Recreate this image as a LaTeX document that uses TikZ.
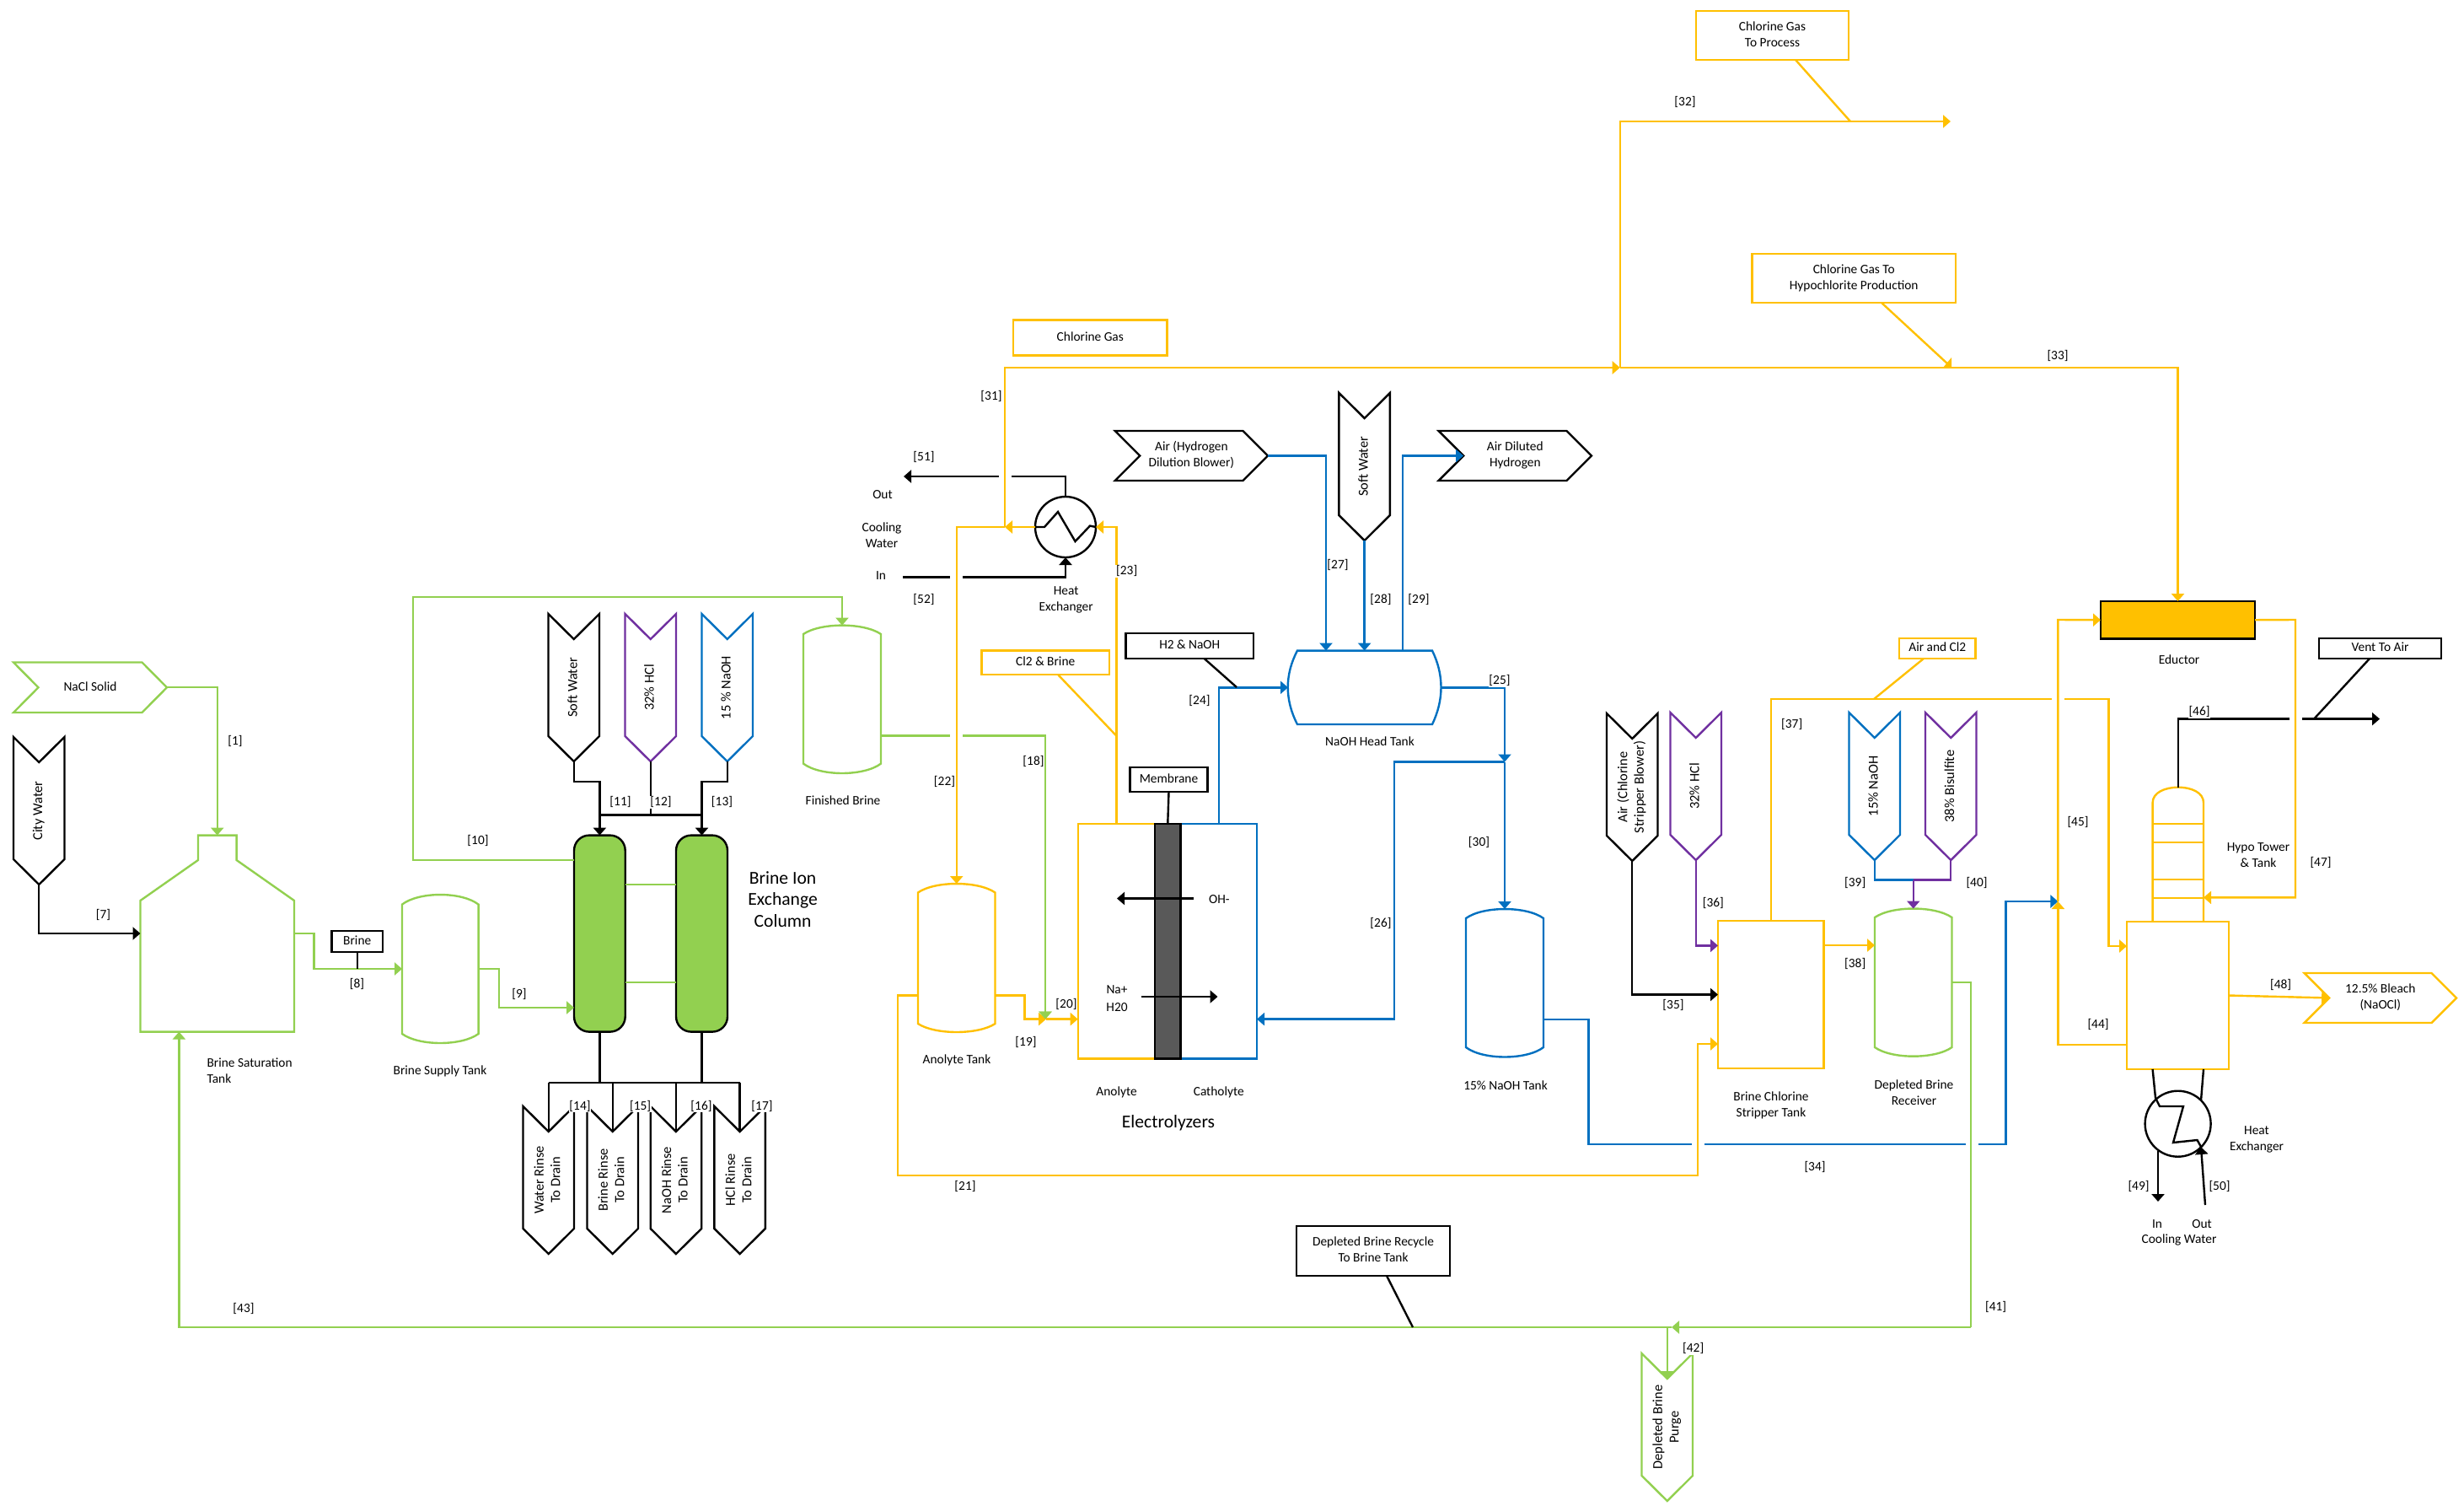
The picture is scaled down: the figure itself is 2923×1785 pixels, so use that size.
\documentclass[tikz,border=0pt]{standalone}
\usepackage{fontspec}
\setmainfont{Carlito}
\usepackage{graphicx}
\usetikzlibrary{arrows.meta,calc}
\definecolor{gr}{HTML}{92D050}
\definecolor{yl}{HTML}{FFC000}
\definecolor{bl}{HTML}{0070C0}
\definecolor{pu}{HTML}{7030A0}
\definecolor{mem}{HTML}{595959}
\tikzset{
  ln/.style={line width=1.2pt,draw=#1,line join=miter},
  arr/.style={-{Triangle[length=4.5pt,width=7.5pt]}},
  holder/.style={inner sep=0pt,outer sep=0pt,align=center},
  txt/.style={inner sep=0pt,outer sep=0pt,align=center,yshift=-0.7pt},
  ltxt/.style={inner sep=0pt,outer sep=0pt,align=left,anchor=west,yshift=-0.7pt},
  bigtxt/.style={inner sep=0pt,outer sep=0pt,yshift=-0.5pt,font=\fontsize{10.8}{12.5}\selectfont},
  lab/.style={inner sep=0.4pt,outer sep=0pt,fill=white,yshift=-0.7pt},
}
% lowered block of centred lines
\newcommand\tblock[1]{\raisebox{-0.7pt}{\begin{tabular}{@{}c@{}}#1\end{tabular}}}
% pentagon pointing down: name, left x, top y, colour, text
\newcommand\vpent[5]{%
  \draw[ln=#4] (#2,#3) -- (#2+30.25,#3+30) -- (#2+60.5,#3) -- (#2+60.5,#3+145) -- (#2+30.25,#3+175) -- (#2,#3+145) -- cycle;
  \node[holder,minimum width=30.25pt,minimum height=87.5pt] (#1) at (#2+30.25,#3+87.5) {\rotatebox{90}{\fontsize{8.2}{9.8}\selectfont\begin{tabular}{@{}c@{}}#5\end{tabular}}};
  \coordinate (#1-n) at (#2+30.25,#3+30);
}
% chevron pointing right: name, x1, x2, y1, y2, colour, text
\newcommand\hchev[7]{%
  \draw[ln=#6] (#2,#4) -- (#3-29.5,#4) -- (#3,#4/2+#5/2) -- (#3-29.5,#5) -- (#2,#5) -- (#2+29.5,#4/2+#5/2) -- cycle;
  \node[holder,minimum width={(#3-#2)*0.5pt},minimum height={(#5-#4)*0.5pt}] (#1) at (#2/2+#3/2,#4/2+#5/2) {\tblock{#7}};
  \coordinate (#1-n) at (#2+29.5,#4/2+#5/2);
}
% vertical tank: name, x1, x2, ytop, yshoulder, ylow, ybottom, colour
\newcommand\vtank[8]{%
  \draw[ln=#8] (#2,#5) .. controls (#2+0.22*#3-0.22*#2,#5-1.33*#5+1.33*#4) and (#3-0.22*#3+0.22*#2,#5-1.33*#5+1.33*#4) .. (#3,#5)
     -- (#3,#6) .. controls (#3-0.22*#3+0.22*#2,#6+1.33*#7-1.33*#6) and (#2+0.22*#3-0.22*#2,#6+1.33*#7-1.33*#6) .. (#2,#6) -- cycle;
  \node[holder,minimum width={(#3-#2)*0.5pt},minimum height={(#7-#4)*0.5pt}] (#1) at (#2/2+#3/2,#4/2+#7/2) {};
}
% rectangle node: name, x1, x2, y1, y2, colour, text
\newcommand\boxn[7]{%
  \node[holder,draw=#6,line width=1.2pt,minimum width={(#3-#2)*0.5pt},minimum height={(#5-#4)*0.5pt}] (#1) at (#2/2+#3/2,#4/2+#5/2) {\tblock{#7}};
}
% white break in a line that another line crosses
\newcommand\gapw[2]{\fill[white] (#1-7.5,#2-4) rectangle (#1+7.5,#2+4);}
\newcommand\lb[3]{\node[lab] (n#1) at (#2,#3) {[#1]};}
\begin{document}
\begin{tikzpicture}[x=0.5pt,y=-0.5pt,font=\fontsize{7.7}{9.5}\selectfont]
\useasboundingbox (0,0) rectangle (2923,1785);

% ===== equipment =====
\hchev{nacl}{16}{198}{785.5}{845}{gr}{NaCl Solid}
\vpent{city}{16}{874}{black}{City Water}
\draw[ln=gr] (166.5,1223.6) -- (166.5,1068) -- (235,1020) -- (235,990.6) -- (280.6,990.6) -- (280.6,1020) -- (349,1068) -- (349,1223.6) -- cycle;
\node[holder,minimum width=91.25pt,minimum height=116.5pt] (sat) at (257.75,1107.1) {};
\boxn{brinebox}{393.5}{454}{1104}{1129}{black}{Brine}
\vtank{sup}{477}{567.6}{1061}{1072.6}{1226}{1237}{gr}
\vtank{fin}{953}{1045}{741.6}{752}{905.6}{917}{gr}
\vpent{sw1}{650.5}{728}{black}{Soft Water}
\vpent{hcl1}{741.5}{728}{pu}{32\% HCl}
\vpent{nao1}{832.5}{728}{bl}{15 \% NaOH}
\node[holder,draw=black,line width=1.2pt,fill=gr,rounded corners=9pt,minimum width=30.35pt,minimum height=116.5pt] (col1) at (711.35,1107.1) {};
\node[holder,draw=black,line width=1.2pt,fill=gr,rounded corners=9pt,minimum width=30.5pt,minimum height=116.5pt] (col2) at (832.5,1107.1) {};
\vpent{d1}{620.5}{1312}{black}{Water Rinse\\To Drain}
\vpent{d2}{696.5}{1312}{black}{Brine Rinse\\To Drain}
\vpent{d3}{771.7}{1312}{black}{NaOH Rinse\\To Drain}
\vpent{d4}{847.4}{1312}{black}{HCl Rinse\\To Drain}

\boxn{chlgas}{1202}{1384.6}{379.5}{421.5}{yl}{Chlorine Gas}
\boxn{cl2box}{1164.5}{1316}{771.6}{800}{yl}{Cl2 \& Brine}
\boxn{h2box}{1335.5}{1487}{751}{781}{black}{H2 \& NaOH}
\boxn{membox}{1340.6}{1432.4}{910}{939}{black}{Membrane}
\vtank{anot}{1089}{1180.5}{1048}{1058.5}{1214}{1224}{yl}
\boxn{anolyte}{1278.7}{1370}{977}{1255.6}{yl}{}
\boxn{catholyte}{1400.5}{1491}{977}{1255.6}{bl}{}
\node[holder,draw=black,line width=1.2pt,fill=mem,minimum width=15.25pt,minimum height=139.3pt] (membrane) at (1385.25,1116.3) {};
\hchev{airh}{1322.7}{1504}{511}{570}{black}{Air (Hydrogen\\Dilution Blower)}
\vpent{sw2}{1588.4}{466}{black}{Soft Water}
\hchev{adh}{1706.6}{1888}{511}{570}{black}{Air Diluted\\Hydrogen}
\draw[ln=bl] (1539,771.6) -- (1699,771.6) .. controls (1713,800) and (1713,830) .. (1699,859) -- (1539,859) .. controls (1524,830) and (1524,800) .. (1539,771.6) -- cycle;
\node[holder,minimum width=90.5pt,minimum height=43.7pt] (head) at (1618.5,815.3) {};
\vtank{t15}{1739}{1831}{1078}{1089}{1242}{1253.5}{bl}

\boxn{proc}{2012}{2193}{12.7}{71}{yl}{Chlorine Gas\\To Process}
\boxn{hypo}{2078.4}{2320}{300.7}{359}{yl}{Chlorine Gas To\\Hypochlorite Production}
\boxn{recyc}{1538}{1720}{1454}{1513}{black}{Depleted Brine Recycle\\To Brine Tank}
\vpent{purge}{1947.5}{1605}{gr}{Depleted Brine\\Purge}
\vpent{airc}{1906}{846}{black}{Air (Chlorine\\Stripper Blower)}
\vpent{hcl2}{1981.5}{845}{pu}{32\% HCl}
\vpent{nao2}{2193.5}{845}{bl}{15\% NaOH}
\vpent{bis}{2284}{845}{pu}{38\% Bisulfite}
\boxn{strip}{2038}{2163.5}{1092}{1267}{yl}{}
\vtank{recv}{2224}{2315.5}{1077.5}{1088}{1242}{1252.7}{gr}
\boxn{airbox}{2253}{2343.6}{757}{781}{yl}{Air and Cl2}
\boxn{educ}{2492}{2675}{713}{757.4}{black}{}
\fill[yl] (educ.south west) rectangle (educ.north east);
\draw[line width=1.2pt] (educ.south west) rectangle (educ.north east);
\boxn{vent}{2751}{2896}{757}{781}{black}{Vent To Air}
\boxn{react}{2523}{2644}{1093}{1268}{yl}{}
\hchev{bleach}{2733.6}{2914}{1154}{1213}{yl}{12.5\% Bleach\\(NaOCl)}
% hypo tower
\draw[ln=yl] (2553.6,1093) -- (2553.6,952) .. controls (2553.6,940) and (2568,933.7) .. (2583.8,933.7) .. controls (2600,933.7) and (2614,940) .. (2614,952) -- (2614,1093);
\foreach \yy in {977,999,1043,1065}{\draw[ln=yl] (2553.6,\yy) -- (2614,\yy);}
\node[holder,minimum width=30.2pt,minimum height=79.6pt] (tower) at (2583.8,1013.3) {};
% heat exchangers
\node[holder,draw=black,line width=1.2pt,circle,minimum size=36pt] (hxt) at (1264,625) {};
\node[holder,draw=black,line width=1.2pt,circle,minimum size=39pt] (hxb) at (2583.6,1332.7) {};
\draw[ln=black] (hxt.west) -- (1239,625) -- (1255,607) -- (1275.5,642) -- (1293,623.6) -- (hxt.east);

% ===== connectors that are broken where another line crosses them =====
\draw[ln=black,arr] (hxt.north) |- (1072,565) coordinate (e51);
\coordinate (s52) at (1071,684.6);
\draw[ln=black,arr] (s52) -| (hxt.south);
\draw[ln=gr,arr] (fin.east |- 0,872.6) -| (1240,1208.6);
\coordinate (j26) at (1785,903.5);
\draw[ln=bl,arr] (t15.east |- 0,1209) -- (1884.5,1209) -- (1884.5,1356.8) -- (2379.5,1356.8) -- (2379.5,1069) -- (2441.4,1069) coordinate (j45);
\coordinate (j37) at (2501.4,829);
\draw[ln=yl,arr] (strip.north) |- (j37) |- (react.west |- 0,1122);
\draw[ln=black,arr] (tower.north) |- (2823,852.6) coordinate (e46);
\gapw{1192}{565}
\gapw{1134.6}{684.6}
\gapw{1134.6}{872.6}
\gapw{2014}{1356.8}
\gapw{2339}{1356.8}
\gapw{2441}{829}
\gapw{2723}{852.6}

% ===== left: brine =====
\draw[ln=gr,arr] (nacl.east) -| (sat.north);
\draw[ln=black,arr] (city.south) |- (sat.west |- 0,1107);
\draw[ln=gr,arr] (sat.east |- 0,1107) -- (372.5,1107) -- (372.5,1149) -- (sup.west |- 0,1149);
\draw[ln=black] (brinebox.south) -- (brinebox.south |- 0,1149);
\draw[ln=gr,arr] (sup.east |- 0,1149) -- (592,1149) -- (592,1195) -- (col1.west |- 0,1195);
\draw[ln=gr,arr] (col1.west |- 0,1020) -- (490,1020) -- (490,708) -| (fin.north);
\draw[ln=gr] (col1.east |- 0,1049) -- (col2.west |- 0,1049);
\draw[ln=gr] (col1.east |- 0,1165) -- (col2.west |- 0,1165);
\draw[ln=black,arr] (sw1.south) |- (col1.north |- 0,927) -- (col1.north);
\draw[ln=black,arr] (nao1.south) |- (col2.north |- 0,927) -- (col2.north);
\draw[ln=black] (hcl1.south) -- (hcl1.south |- 0,966.5);
\draw[ln=black] (col1.north |- 0,966.5) -- (col2.north |- 0,966.5);
\draw[ln=black] (col1.south) -- (col1.south |- 0,1284);
\draw[ln=black] (col2.south) -- (col2.south |- 0,1284);
\draw[ln=black] (d1-n |- 0,1284) -- (d4-n |- 0,1284);
\draw[ln=black] (d1-n |- 0,1284) -- (d1-n);
\draw[ln=black] (d2-n |- 0,1284) -- (d2-n);
\draw[ln=black] (d3-n |- 0,1284) -- (d3-n);
\draw[ln=black] (d4-n |- 0,1284) -- (d4-n);

% ===== middle: chlorine =====
\coordinate (j31) at (1192,625);
\coordinate (j32) at (1921.7,436);
\coordinate (j33) at (2315,436);
\draw[ln=yl,arr] (hxt.west) -- (j31);
\draw[ln=yl,arr] (j31) -| (anot.north);
\draw[ln=yl,arr] (j31) |- (j32);
\draw[ln=yl] (j32) -- (j33);
\draw[ln=yl,arr] (j33) -| (educ.north);
\fill[yl] (j33) -- (2305,436) -- (2315,424) -- cycle;
\draw[ln=yl,arr] (j32) |- (2314,144) coordinate (e32);
\draw[ln=yl] (proc.south -| 2130,0) -- (2195,144) coordinate (t32);
\draw[ln=yl] (hypo.south -| 2232,0) -- (2311,432) coordinate (t33);
\draw[ln=yl,arr] (anolyte.north) |- (hxt.east);
\draw[ln=yl] (cl2box.south -| 1255,0) -- (anolyte.north |- 0,872.6);
\coordinate (j20) at (1241,1208.6);
\draw[ln=yl,arr] (anot.east |- 0,1180.6) -- (1215.6,1180.6) -- (1215.6,1208.6) -- (j20);
\draw[ln=yl,arr] (j20) -- (anolyte.west |- 0,1208.6);
\draw[ln=yl,arr] (anot.west |- 0,1180.6) -- (1065,1180.6) -- (1065,1394) -- (2014,1394) -- (2014,1238) -- (strip.west |- 0,1238);
\draw[ln=gr,arr] (1240,1190) -- (1240,1208.6);

% ===== middle: caustic =====
\draw[ln=bl,arr] (catholyte.north) |- (head.west);
\draw[ln=black] (h2box.south -| 1428.6,0) -- (1467,815) coordinate (t24);
\draw[ln=black] (membox.south) -- (membrane.north);
\draw[ln=bl,arr] (airh.east) -| (head.north -| 1573,0);
\draw[ln=bl,arr] (sw2.south) -- (sw2.south |- head.north);
\draw[ln=bl,arr] (head.north -| 1664,0) |- (adh-n);
\draw[ln=bl,arr] (head.east) -| (j26);
\draw[ln=bl,arr] (j26) -- (t15.north);
\draw[ln=bl,arr] (j26) -- (1653.7,903.5) -- (1653.7,1208.6) -- (catholyte.east |- 0,1208.6);
\draw[ln=black,arr] (1416,1065.5) coordinate (s1) -- (1325,1065.5) coordinate (e1);
\draw[ln=black,arr] (1354,1182) coordinate (s2) -- (1444.5,1182) coordinate (e2);

% ===== right =====
\draw[ln=black,arr] (airc.south) |- (strip.west |- 0,1179.5);
\draw[ln=pu,arr] (hcl2.south) |- (strip.west |- 0,1121.4);
\draw[ln=yl] (airbox.south -| 2282,0) -- (2223,829) coordinate (t37);
\draw[ln=yl,arr] (strip.east |- 0,1121) -- (recv.west |- 0,1121);
\coordinate (j39) at (2269.75,1043.5);
\draw[ln=bl] (nao2.south) |- (j39);
\draw[ln=pu] (bis.south) |- (j39);
\draw[ln=pu,arr] (j39) -- (recv.north);
\coordinate (rc) at (2338,1574);
\coordinate (j41) at (1983,1574);
\coordinate (j42) at (1977.75,1574);
\draw[ln=gr] (recv.east |- 0,1165) -| (rc);
\draw[ln=gr,arr] (rc) -- (j41);
\draw[ln=gr,arr] (j41) -- (212.4,1574) -- (sat.south -| 212.4,0);
\draw[ln=gr,arr] (j42) -- (purge-n);
\draw[ln=black] (recyc.south -| 1645,0) -- (1676,1574) coordinate (t41);
\draw[ln=yl,arr] (react.west |- 0,1239) -- (2441.4,1239) -- (j45);
\draw[ln=yl,arr] (j45) -- (2441.4,735) -- (educ.west);
\draw[ln=yl,arr] (educ.east) -- (2723,735) -- (2723,1064.4) -- (tower.east |- 0,1064.4);
\draw[ln=black] (vent.south -| 2811,0) -- (2745,852.6) coordinate (t46);
\draw[ln=yl,arr] (react.east |- 0,1180.5) -- (bleach-n);
\draw[ln=black] (react.south -| 2553.6,0) -- (2557,1302) -- (2562,1312) -- (2590,1312) -- (2578,1355) -- (2606.5,1352) -- (2611,1360) coordinate (z50);
\draw[ln=black] (react.south -| 2614,0) -- (2611,1305);
\draw[ln=black,arr] (2560,1365) coordinate (s49) -- (2560,1425) coordinate (e49);
\draw[ln=black,arr] (2616,1429) coordinate (s50) -- (z50);

% ===== texts =====
\node[ltxt] (t1) at (245.5,1268) {Brine Saturation\\Tank};
\node[txt] (t2) at (522,1269) {Brine Supply Tank};
\node[txt] (t3) at (1000,948) {Finished Brine};
\node[bigtxt,align=center] (t4) at (928.6,1065.6) {Brine Ion\\[0.3pt]Exchange\\[0.3pt]Column};
\node[txt] (t5) at (1135,1256) {Anolyte Tank};
\node[txt] (t6) at (1324.6,1293.5) {Anolyte};
\node[txt] (t7) at (1445.8,1293.5) {Catholyte};
\node[bigtxt] (t8) at (1386,1331) {Electrolyzers};
\node[txt] (t9) at (1446.4,1065.5) {OH-};
\node[txt] (t10) at (1325,1183) {Na+\\[1pt]H20};
\node[txt] (t11) at (1047,585) {Out};
\node[txt] (t12) at (1046,633) {Cooling\\Water};
\node[txt] (t13) at (1045,681) {In};
\node[txt] (t14) at (1264.7,709.5) {Heat\\Exchanger};
\node[txt] (t15t) at (1625,877.5) {NaOH Head Tank};
\node[txt] (t16) at (1786,1286) {15\% NaOH Tank};
\node[txt] (t17) at (2101,1309.5) {Brine Chlorine\\Stripper Tank};
\node[txt] (t18) at (2270.5,1294.5) {Depleted Brine\\Receiver};
\node[txt] (t19) at (2585,781) {Eductor};
\node[txt] (t20) at (2679,1012.5) {Hypo Tower\\\& Tank};
\node[txt] (t21) at (2677,1350) {Heat\\Exchanger};
\node[txt] (t22) at (2559,1450) {In};
\node[txt] (t23) at (2612,1450) {Out};
\node[txt] (t24l) at (2585,1469) {Cooling Water};

% ===== stream numbers =====
\lb{1}{279}{878}
\lb{7}{122.5}{1084}
\lb{8}{423.5}{1166}
\lb{9}{616}{1178}
\lb{10}{567}{996}
\lb{11}{736}{950}
\lb{12}{784}{950}
\lb{13}{856.5}{950}
\lb{14}{688}{1310.4}
\lb{15}{759.6}{1310.4}
\lb{16}{832}{1310.4}
\lb{17}{904}{1310.4}
\lb{18}{1226}{902}
\lb{19}{1217}{1235}
\lb{20}{1265}{1190}
\lb{21}{1145}{1406}
\lb{22}{1120.5}{926}
\lb{23}{1336.7}{676}
\lb{24}{1423}{830}
\lb{25}{1779}{806}
\lb{26}{1638}{1094}
\lb{27}{1587}{669}
\lb{28}{1638}{710}
\lb{29}{1683}{710}
\lb{30}{1754.5}{997.5}
\lb{31}{1176}{469}
\lb{32}{1999}{120}
\lb{33}{2441}{421}
\lb{34}{2153}{1382.4}
\lb{35}{1985}{1190.5}
\lb{36}{2032.4}{1070}
\lb{37}{2125.7}{858}
\lb{38}{2200.7}{1142}
\lb{39}{2200.7}{1046}
\lb{40}{2345}{1046}
\lb{41}{2367.6}{1549}
\lb{42}{2008.7}{1598}
\lb{43}{289}{1551}
\lb{44}{2489}{1214}
\lb{45}{2465}{974}
\lb{46}{2609}{843}
\lb{47}{2753}{1022}
\lb{48}{2705.6}{1166.4}
\lb{49}{2537}{1406}
\lb{50}{2633}{1406}
\lb{51}{1096}{541}
\lb{52}{1096}{710}
\end{tikzpicture}
\end{document}
